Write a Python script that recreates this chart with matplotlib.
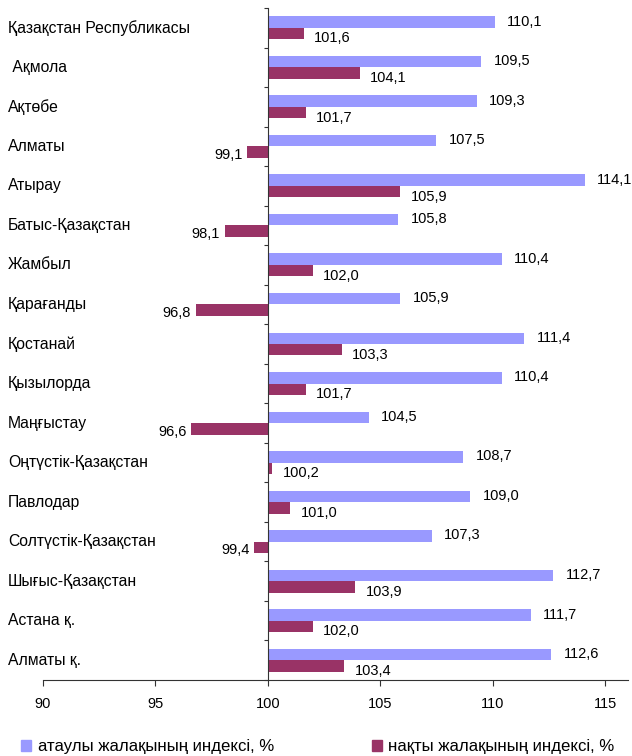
import numpy as np
import matplotlib
matplotlib.use('Agg')
import matplotlib.pyplot as plt
from matplotlib.patches import Patch
from matplotlib.transforms import blended_transform_factory

plt.rcParams['font.family'] = ['Liberation Sans', 'DejaVu Sans']

regions = ['Қазақстан Республикасы', ' Ақмола', 'Ақтөбе', 'Алматы', 'Атырау',
           'Батыс-Қазақстан', 'Жамбыл', 'Қарағанды', 'Қостанай', 'Қызылорда',
           'Маңғыстау', 'Оңтүстік-Қазақстан', 'Павлодар', 'Солтүстік-Қазақстан',
           'Шығыс-Қазақстан', 'Астана қ.', 'Алматы қ.']
nominal = [110.1, 109.5, 109.3, 107.5, 114.1, 105.8, 110.4, 105.9, 111.4,
           110.4, 104.5, 108.7, 109.0, 107.3, 112.7, 111.7, 112.6]
real = [101.6, 104.1, 101.7, 99.1, 105.9, 98.1, 102.0, 96.8, 103.3,
        101.7, 96.6, 100.2, 101.0, 99.4, 103.9, 102.0, 103.4]
series_names = ['атаулы жалақының индексі, %', 'нақты жалақының индексі, %']
xticks = [90, 95, 100, 105, 110, 115]

c_nom = '#9999FF'
c_real = '#993366'
base = 100

fig = plt.figure(figsize=(6.32, 7.56), dpi=100)
ax = fig.add_axes([42.7 / 632, 76 / 756, 585 / 632, 672 / 756])

y = np.arange(len(regions))
h = 0.29
off = 0.145
nom = np.array(nominal)
rl = np.array(real)
ax.barh(y - off, nom - base, left=base, height=h, color=c_nom)
ax.barh(y + off, rl - base, left=base, height=h, color=c_real)

fmt = lambda v: f'{v:.1f}'.replace('.', ',')
for yi, v in zip(y, nom):
    ax.annotate(fmt(v), (v, yi - off), xytext=(8.8, 0.3), textcoords='offset points',
                ha='left', va='center', fontsize=10.5)
for yi, v in zip(y, rl):
    if v >= base:
        ax.annotate(fmt(v), (v, yi + off), xytext=(7.5, -3.6), textcoords='offset points',
                    ha='left', va='center', fontsize=10.5)
    else:
        ax.annotate(fmt(v), (v, yi + off), xytext=(-3.5, -2.2), textcoords='offset points',
                    ha='right', va='center', fontsize=10.5)

ax.set_xlim(90, 116)
ax.set_ylim(len(regions) - 0.5, -0.5)
ax.set_xticks(xticks)
ax.set_xticklabels([str(t) for t in xticks], fontsize=10.5)
ax.set_yticks(np.arange(len(regions) + 1) - 0.5)
ax.set_yticklabels([])
ax.tick_params(axis='x', length=4, width=0.8, pad=8, color='#333333')
ax.tick_params(axis='y', length=3, width=0.8, color='#333333')

for s in ['top', 'right']:
    ax.spines[s].set_visible(False)
ax.spines['left'].set_position(('data', base))
for s in ['left', 'bottom']:
    ax.spines[s].set_color('#333333')
    ax.spines[s].set_linewidth(0.8)

# category labels at the left edge of the figure
tr = blended_transform_factory(fig.transFigure, ax.transData)
for yi, name in zip(y, regions):
    ax.text(8 / 632, yi, name, transform=tr, ha='left', va='center', fontsize=11.3)

handles = [Patch(color=c_nom), Patch(color=c_real)]
fig.legend(handles, series_names, loc='center left', bbox_to_anchor=(6 / 632, 9 / 756),
           ncol=2, frameon=False, fontsize=12.1, handlelength=0.6, handleheight=0.6,
           handletextpad=0.4, columnspacing=5.8)

fig.savefig('out.png', dpi=100)
